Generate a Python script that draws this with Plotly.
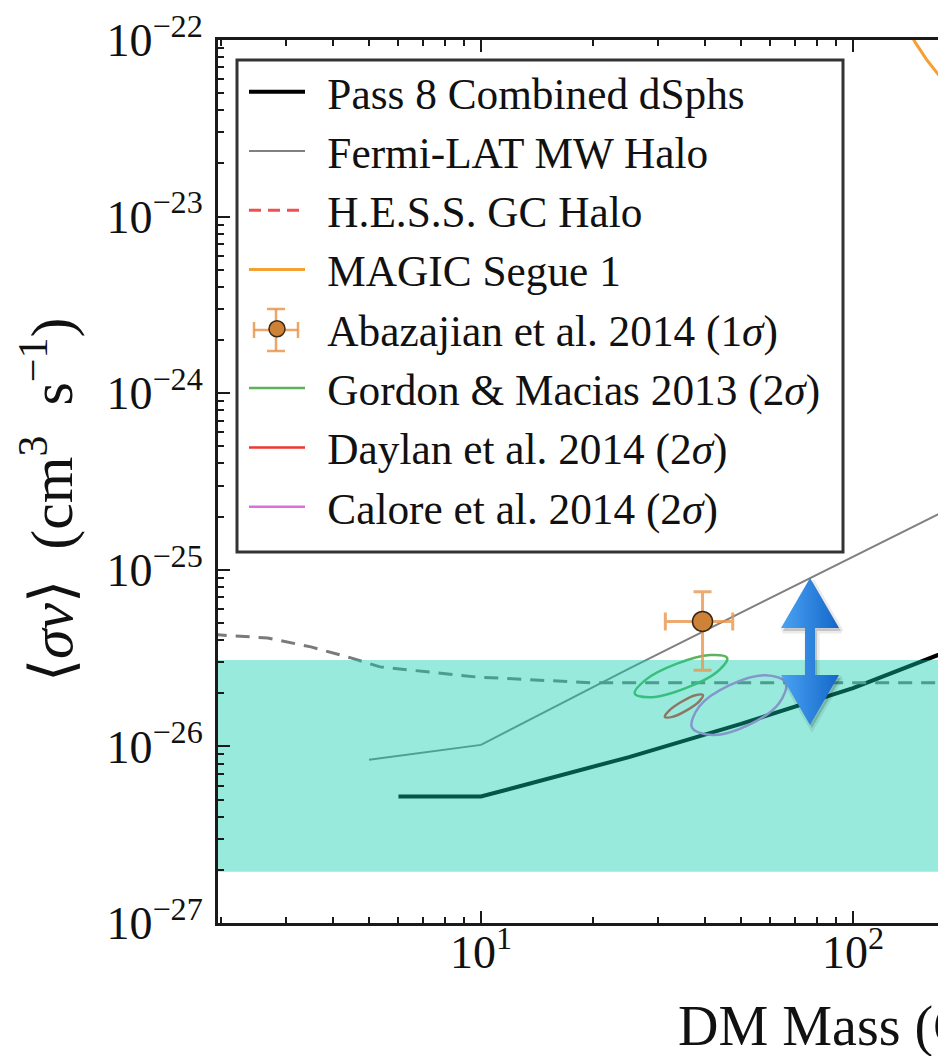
import plotly.graph_objects as go

# ---------------- data ----------------
pass8_mass = [6, 10, 25, 50, 100, 250, 500, 1000]
pass8_sv = [5.2e-27, 5.2e-27, 8.7e-27, 1.34e-26, 2.14e-26, 4.5e-26, 8.0e-26, 1.5e-25]

mw_mass = [5, 10, 25, 50, 100, 250, 500, 1000]
mw_sv = [8.4e-27, 1.02e-26, 2.76e-26, 5.7e-26, 1.18e-25, 3.1e-25, 6.0e-25, 1.2e-24]

hess_mass = [1.9, 2.67, 3.49, 4.47, 5.35, 7.3, 9.75, 20, 50, 100, 200]
hess_sv = [4.3e-26, 4.11e-26, 3.66e-26, 3.17e-26, 2.82e-26, 2.64e-26, 2.47e-26,
           2.29e-26, 2.29e-26, 2.29e-26, 2.29e-26]

magic_mass = [120, 147, 158, 178, 200, 300, 500]
magic_sv = [2.0e-22, 9.7e-23, 7.7e-23, 5.6e-23, 4.4e-23, 2.0e-23, 1.0e-23]

aba_mass = [39.4]
aba_sv = [5.1e-26]
aba_mass_err = [8.1]
aba_sv_err = [2.4e-26]

gordon_mass = [45.9, 43.0, 35.5, 28.8, 25.9, 27.7, 33.5, 41.3, 45.9]
gordon_sv = [3.17e-26, 2.63e-26, 2.14e-26, 1.90e-26, 1.99e-26, 2.38e-26, 2.93e-26, 3.29e-26, 3.17e-26]

daylan_mass = [39.5, 38.6, 35.7, 32.7, 31.2, 32.0, 34.6, 37.7, 39.5]
daylan_sv = [1.95e-26, 1.80e-26, 1.60e-26, 1.47e-26, 1.47e-26, 1.59e-26, 1.79e-26, 1.95e-26, 1.95e-26]

calore_mass = [66.0, 63.2, 52.3, 41.9, 36.9, 38.6, 46.6, 58.2, 66.0]
calore_sv = [2.30e-26, 1.75e-26, 1.32e-26, 1.16e-26, 1.28e-26, 1.68e-26, 2.22e-26, 2.53e-26, 2.30e-26]

band_mass = [1, 20000, 20000, 1, 1]
band_sv = [1.95e-27, 1.95e-27, 3.08e-26, 3.08e-26, 1.95e-27]

x_tickvals = [10, 100, 1000]
x_ticktext = ["10<sup>1</sup>", "10<sup>2</sup>", "10<sup>3</sup>"]
y_tickvals = [1e-27, 1e-26, 1e-25, 1e-24, 1e-23, 1e-22]
y_ticktext = ["10<sup>−27</sup>", "10<sup>−26</sup>", "10<sup>−25</sup>",
              "10<sup>−24</sup>", "10<sup>−23</sup>", "10<sup>−22</sup>"]

x_minor = [m * 10 ** e for e in range(0, 4) for m in range(2, 10)]
y_minor = [m * 10.0 ** e for e in range(-28, -21) for m in range(2, 10)]

# ---------------- layout geometry (screen pixels) ----------------
OFF = 8                     # page body margin of the browser
W, H = 946, 1056
L, T = 218, 40              # plot area top-left on screen
PW, PH = W - L, 883

def px2paper(px, py):
    return (px - L) / PW, (T + PH - py) / PH

FONT = "Liberation Serif"
SP = "\u2009\u2009"          # small gap between legend symbol and text

fig = go.Figure()

fig.add_trace(go.Scatter(x=pass8_mass, y=pass8_sv, mode="lines", name=SP + "Pass 8 Combined dSphs",
                         line=dict(color="#000000", width=4)))
fig.add_trace(go.Scatter(x=mw_mass, y=mw_sv, mode="lines", name=SP + "Fermi-LAT MW Halo",
                         line=dict(color="#808080", width=2)))
fig.add_trace(go.Scatter(x=hess_mass, y=hess_sv, mode="lines", showlegend=False,
                         line=dict(color="#7a7a7a", width=3, dash="14px,9px")))
fig.add_trace(go.Scatter(x=[None], y=[None], mode="lines", name=SP + "H.E.S.S. GC Halo",
                         line=dict(color="#f05050", width=3, dash="12px,7px")))
fig.add_trace(go.Scatter(x=magic_mass, y=magic_sv, mode="lines", name=SP + "MAGIC Segue 1",
                         line=dict(color="#f5a035", width=3)))
fig.add_trace(go.Scatter(x=gordon_mass, y=gordon_sv, mode="lines",
                         name=SP + "Gordon &amp; Macias 2013 (2<i>σ</i>)",
                         line=dict(color="#5cb35c", width=2.5, shape="spline"), legendrank=6))
fig.add_trace(go.Scatter(x=daylan_mass, y=daylan_sv, mode="lines",
                         name=SP + "Daylan et al. 2014 (2<i>σ</i>)",
                         line=dict(color="#f03535", width=2.5, shape="spline"), legendrank=7))
fig.add_trace(go.Scatter(x=calore_mass, y=calore_sv, mode="lines",
                         name=SP + "Calore et al. 2014 (2<i>σ</i>)",
                         line=dict(color="#dd6ee0", width=2.5, shape="spline"), legendrank=8))
# translucent band drawn over the curves
fig.add_trace(go.Scatter(x=band_mass, y=band_sv, mode="lines", fill="toself", showlegend=False,
                         line=dict(width=0, color="rgba(0,0,0,0)"),
                         fillcolor="rgba(10,207,172,0.42)", hoverinfo="skip"))
fig.add_trace(go.Scatter(x=aba_mass, y=aba_sv, mode="markers",
                         name=SP + "Abazajian et al. 2014 (1<i>σ</i>)",
                         marker=dict(color="#cd8238", size=20, line=dict(color="#3a2814", width=1.5)),
                         error_x=dict(type="data", array=aba_mass_err, color="rgba(232,150,78,0.8)",
                                      thickness=3, width=9),
                         error_y=dict(type="data", array=aba_sv_err, color="rgba(232,150,78,0.8)",
                                      thickness=3, width=9),
                         legendrank=5))
for i, tr in enumerate(fig.data):
    if tr.legendrank is None:
        tr.legendrank = i + 1

# blue double-headed arrow (annotation graphic) on an overlay paper-like axis
arrow_px = [(810, 578), (839, 628), (815, 628), (815, 675), (839, 675), (810, 725),
            (781, 675), (805, 675), (805, 628), (781, 628), (810, 578)]
ax_, ay_ = zip(*[px2paper(*p) for p in arrow_px])
sx_, sy_ = zip(*[px2paper(p[0] + 2, p[1] + 3) for p in arrow_px])
fig.add_trace(go.Scatter(x=sx_, y=sy_, xaxis="x2", yaxis="y2", mode="lines", fill="toself",
                         fillcolor="rgba(0,0,0,0.16)", line=dict(color="rgba(0,0,0,0.08)", width=5),
                         showlegend=False, hoverinfo="skip"))
fig.add_trace(go.Scatter(x=ax_, y=ay_, xaxis="x2", yaxis="y2", mode="lines", fill="toself",
                         fillgradient=dict(type="horizontal",
                                           colorscale=[[0, "#4ba3f3"], [1, "#1467c9"]]),
                         line=dict(width=0, color="rgba(0,0,0,0)"),
                         showlegend=False, hoverinfo="skip"))

# legend frame and the error-bar cross of the Abazajian legend symbol
LEG = (237, 60, 843, 552)
cx, cy = 276, 330
err_col = "rgba(232,150,78,0.85)"
shapes = [
    dict(type="rect", xref="paper", yref="paper", layer="above",
         x0=px2paper(LEG[0], LEG[1])[0], y0=px2paper(LEG[0], LEG[1])[1],
         x1=px2paper(LEG[2], LEG[3])[0], y1=px2paper(LEG[2], LEG[3])[1],
         fillcolor="white", line=dict(color="#333333", width=3)),
]
for (a, b) in [((cx - 22, cy), (cx + 22, cy)), ((cx, cy - 21), (cx, cy + 21)),
               ((cx - 22, cy - 8), (cx - 22, cy + 8)), ((cx + 22, cy - 8), (cx + 22, cy + 8)),
               ((cx - 9, cy - 21), (cx + 9, cy - 21)), ((cx - 9, cy + 21), (cx + 9, cy + 21))]:
    p0, p1 = px2paper(*a), px2paper(*b)
    shapes.append(dict(type="line", xref="paper", yref="paper", layer="above",
                       x0=p0[0], y0=p0[1], x1=p1[0], y1=p1[1], line=dict(color=err_col, width=2.5)))

axis_common = dict(showgrid=False, zeroline=False, showline=True, linecolor="#1a1a1a",
                   linewidth=3, ticks="inside", ticklen=12, tickwidth=2, tickcolor="#1a1a1a",
                   ticklabeloverflow="allow",
                   tickfont=dict(family=FONT, size=46, color="#111111"))

fig.update_layout(
    width=W - OFF, height=H - OFF,
    margin=dict(l=L - OFF, r=0, t=T - OFF, b=H - T - PH, pad=0),
    paper_bgcolor="white", plot_bgcolor="white",
    font=dict(family=FONT, color="#111111"),
    xaxis=dict(type="log", range=[0.293, 2.25], tickmode="array", tickvals=x_tickvals,
               ticktext=x_ticktext, mirror="ticks", ticklabelstandoff=-13,
               minor=dict(tickmode="array", tickvals=x_minor, ticks="inside", ticklen=6,
                          tickwidth=1.5, tickcolor="#1a1a1a", showgrid=False),
               **axis_common),
    yaxis=dict(type="log", range=[-27, -22], tickmode="array", tickvals=y_tickvals,
               ticktext=y_ticktext, mirror=False, ticklabelstandoff=3,
               minor=dict(tickmode="array", tickvals=y_minor, ticks="inside", ticklen=6,
                          tickwidth=1.5, tickcolor="#1a1a1a", showgrid=False),
               **axis_common),
    xaxis2=dict(range=[0, 1], overlaying="x", visible=False, fixedrange=True),
    yaxis2=dict(range=[0, 1], overlaying="y", visible=False, fixedrange=True),
    legend=dict(x=px2paper(244, 57)[0], y=px2paper(244, 57)[1], xanchor="left", yanchor="top",
                bgcolor="rgba(0,0,0,0)", borderwidth=0,
                font=dict(family=FONT, size=43.3, color="#111111"),
                itemwidth=56, traceorder="normal"),
    showlegend=True,
    shapes=shapes,
    annotations=[
        dict(text="⟨<i>σv</i>⟩\u2002(cm<sup>3</sup>\u2002s<sup>−1</sup>)", textangle=-90,
             xref="paper", yref="paper", x=px2paper(47, 500)[0], y=px2paper(47, 500)[1],
             xanchor="center", yanchor="middle", showarrow=False,
             font=dict(family=FONT, size=60, color="#111111")),
        dict(text="DM Mass (GeV)", xref="paper", yref="paper",
             x=px2paper(676, 1026)[0], y=px2paper(676, 1026)[1],
             xanchor="left", yanchor="middle", showarrow=False,
             font=dict(family=FONT, size=56, color="#111111")),
    ],
)

fig.write_html("out.html")
